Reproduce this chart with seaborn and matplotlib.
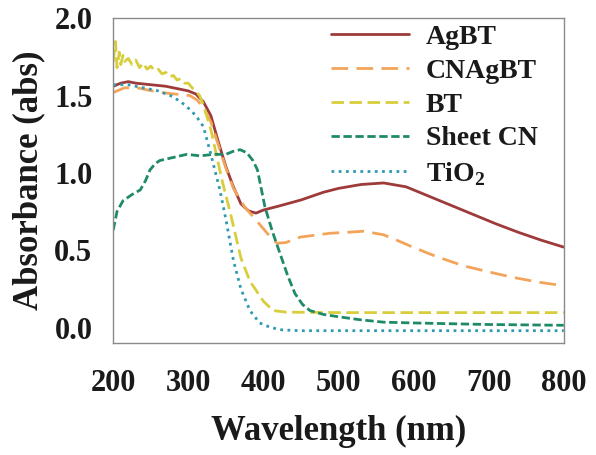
import pandas as pd
import matplotlib
matplotlib.use("Agg")
import matplotlib.pyplot as plt
import seaborn as sns

# --- data ---
wl_agbt = [200, 210, 220, 230, 250, 270, 290, 300, 310, 320, 330, 340, 350, 360, 370, 380, 390,
           400, 420, 450, 480, 500, 530, 560, 590, 620, 650, 680, 710, 740, 770, 800]
agbt = [1.56, 1.58, 1.59, 1.58, 1.57, 1.56, 1.54, 1.53, 1.51, 1.46, 1.37, 1.20, 1.04, 0.91, 0.80, 0.755, 0.74,
        0.76, 0.785, 0.825, 0.875, 0.90, 0.925, 0.935, 0.91, 0.85, 0.79, 0.73, 0.67, 0.615, 0.565, 0.52]

wl_cnagbt = [200, 215, 232, 262, 302, 312, 320, 330, 340, 350, 360, 375, 391, 405, 418, 430, 449,
             489, 515, 533, 560, 580, 599, 630, 666, 700, 732, 765, 800]
cnagbt = [1.52, 1.55, 1.55, 1.52, 1.50, 1.47, 1.42, 1.33, 1.18, 1.03, 0.90, 0.78, 0.69, 0.61, 0.545, 0.55, 0.585,
          0.61, 0.617, 0.623, 0.60, 0.56, 0.52, 0.46, 0.40, 0.36, 0.325, 0.295, 0.27]

wl_bt = [200, 203, 205, 208, 210, 213, 215, 220, 225, 230, 235, 240, 245, 250, 255, 260, 265, 270,
         275, 280, 285, 290, 295, 300, 305, 310, 315, 320, 330, 345, 356, 370, 382, 400, 413, 430, 500, 800]
bt = [1.72, 1.85, 1.68, 1.78, 1.70, 1.76, 1.72, 1.74, 1.70, 1.73, 1.68, 1.71, 1.67, 1.69, 1.66, 1.67, 1.64, 1.65,
      1.62, 1.63, 1.60, 1.61, 1.58, 1.58, 1.55, 1.53, 1.50, 1.44, 1.28, 0.95, 0.74, 0.45, 0.30, 0.17, 0.11, 0.10, 0.097, 0.097]

wl_sheet = [200, 205, 213, 225, 236, 243, 249, 256, 262, 280, 298, 316, 333, 350, 360, 369, 378, 386,
            392, 402, 412, 422, 432, 442, 452, 462, 480, 500, 530, 560, 600, 700, 800]
sheet_cn = [0.63, 0.75, 0.82, 0.86, 0.89, 0.95, 1.02, 1.06, 1.08, 1.10, 1.12, 1.11, 1.12, 1.12, 1.14, 1.15, 1.13, 1.08,
            1.02, 0.78, 0.62, 0.48, 0.34, 0.22, 0.15, 0.11, 0.085, 0.07, 0.05, 0.035, 0.03, 0.02, 0.015]

wl_tio2 = [200, 220, 240, 260, 276, 290, 302, 310, 320, 330, 342, 350, 360, 370, 382, 395, 410, 425, 450, 800]
tio2 = [1.57, 1.57, 1.55, 1.53, 1.50, 1.46, 1.41, 1.37, 1.30, 1.12, 0.89, 0.70, 0.435, 0.25, 0.11, 0.03, 0.0, -0.015, -0.02, -0.02]

labels = ["AgBT", "CNAgBT", "BT", "Sheet CN", "TiO$_\\mathbf{2}$"]
colors = ["#9E3A3A", "#F2A55A", "#D8CE3C", "#1F8A68", "#2E9AB0"]
dash_styles = [(None, None), (6, 3), (4.5, 2), (3, 1.3), (1, 1.6)]

series = [(wl_agbt, agbt), (wl_cnagbt, cnagbt), (wl_bt, bt), (wl_sheet, sheet_cn), (wl_tio2, tio2)]

sns.set_style("white")
plt.rcParams['font.family'] = ['Liberation Serif', 'DejaVu Serif']
plt.rcParams['font.weight'] = 'bold'
plt.rcParams['mathtext.fontset'] = 'custom'
plt.rcParams['mathtext.rm'] = 'Liberation Serif:bold'
plt.rcParams['mathtext.bf'] = 'Liberation Serif:bold'

fig = plt.figure(figsize=(5.96, 4.55), dpi=100)
ax = fig.add_axes([0.19, 0.246, 0.756, 0.714])

for (x, y), lab, col, ds in zip(series, labels, colors, dash_styles):
    df = pd.DataFrame({"wl": x, "abs": y})
    sns.lineplot(data=df, x="wl", y="abs", ax=ax, color=col, linewidth=2.0, label=lab)
    l = ax.get_lines()[-1]
    if ds[0] is not None:
        l.set_dashes(ds)

ax.set_xlim(200, 800)
ax.set_ylim(-0.1, 2.0)
ax.set_xticks([200, 300, 400, 500, 600, 700, 800])
ax.set_yticks([0.0, 0.5, 1.0, 1.5, 2.0])
ax.set_yticklabels(["0.0", "0.5", "1.0", "1.5", "2.0"])

for s in ax.spines.values():
    s.set_color("#8a8a8a")
    s.set_linewidth(1.0)
ax.tick_params(axis="both", direction="out", length=4, width=1, color="#8a8a8a",
               labelsize=22, labelcolor="#1a1a1a", pad=11)
ax.tick_params(axis="x", pad=15)
for t in ax.get_xticklabels() + ax.get_yticklabels():
    t.set_fontweight("bold")

ax.set_xlabel("Wavelength (nm)", fontsize=25, fontweight="bold", color="#1a1a1a", labelpad=12)
ax.set_ylabel("Absorbance (abs)", fontsize=25, fontweight="bold", color="#1a1a1a", labelpad=6)

leg = ax.legend(loc="upper right", bbox_to_anchor=(0.985, 1.04), frameon=False, fontsize=20,
                handlelength=2.8, handletextpad=0.6, labelspacing=0.3, borderaxespad=0.3)
for t in leg.get_texts():
    t.set_color("#1a1a1a")
    t.set_fontweight("bold")

fig.savefig("out.png", dpi=100)
